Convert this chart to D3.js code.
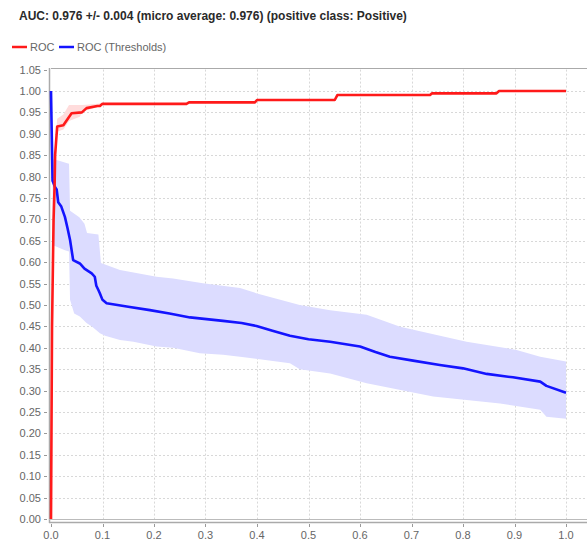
<!DOCTYPE html>
<html lang="en">
<head>
<meta charset="UTF-8">
<title>ROC</title>
<script src="https://d3js.org/d3.v7.min.js"></script>
<style>
    body { margin: 0; padding: 0; background: #fff; overflow: hidden; }
    svg { display: block; font-family: "Liberation Sans", Arial, sans-serif; }
    .tick-label { font-size: 11px; fill: #666; }
    .grid line { stroke: #d8d8d8; stroke-width: 1; stroke-dasharray: 2,2; }
</style>
</head>
<body>
<svg id="chart" width="587" height="542"></svg>
<script>
    // ROC curve (mean), x = false positive rate, y = true positive rate
    const rocX = [0, 0.002, 0.005, 0.007, 0.008, 0.012, 0.024, 0.04, 0.06, 0.069, 0.09, 0.095, 0.1, 0.263, 0.268, 0.396, 0.4, 0.551, 0.556, 0.736, 0.74, 0.865, 0.87, 1.0];
    const rocY = [0, 0.45, 0.70, 0.78, 0.85, 0.917, 0.92, 0.948, 0.95, 0.96, 0.965, 0.965, 0.97, 0.97, 0.9735, 0.9735, 0.979, 0.979, 0.9905, 0.9905, 0.9945, 0.9945, 1.0, 1.0];
    // ROC spread band (only visible near the start)
    const rocBandX = [0.008, 0.012, 0.024, 0.035, 0.056, 0.06, 0.069, 0.09, 0.1];
    const rocBandLo = [0.85, 0.905, 0.91, 0.93, 0.94, 0.95, 0.955, 0.962, 0.968];
    const rocBandHi = [0.87, 0.935, 0.945, 0.967, 0.967, 0.967, 0.968, 0.97, 0.972];

    // ROC (Thresholds) line
    const thrX = [0, 0.003, 0.008, 0.011, 0.014, 0.02, 0.027, 0.032, 0.037, 0.043, 0.056, 0.065, 0.079, 0.085, 0.088, 0.092, 0.095, 0.1, 0.108, 0.15, 0.192, 0.23, 0.27, 0.334, 0.37, 0.399, 0.43, 0.464, 0.5, 0.542, 0.6, 0.63, 0.658, 0.703, 0.755, 0.8, 0.846, 0.897, 0.95, 0.962, 1.0];
    const thrY = [1.0, 0.79, 0.775, 0.77, 0.74, 0.73, 0.706, 0.68, 0.652, 0.605, 0.597, 0.585, 0.574, 0.566, 0.545, 0.535, 0.527, 0.512, 0.504, 0.496, 0.488, 0.48, 0.471, 0.463, 0.458, 0.451, 0.44, 0.428, 0.42, 0.414, 0.403, 0.39, 0.379, 0.37, 0.36, 0.352, 0.339, 0.331, 0.321, 0.311, 0.295];
    // Thresholds band, upper and lower edge
    const thrHiX = [0.003, 0.011, 0.03, 0.035, 0.037, 0.055, 0.065, 0.07, 0.092, 0.097, 0.134, 0.205, 0.237, 0.295, 0.367, 0.4, 0.483, 0.542, 0.613, 0.678, 0.807, 0.904, 0.95, 1.0];
    const thrHiY = [0.84, 0.839, 0.832, 0.83, 0.72, 0.705, 0.69, 0.668, 0.665, 0.598, 0.582, 0.566, 0.562, 0.551, 0.54, 0.527, 0.5, 0.488, 0.477, 0.449, 0.414, 0.395, 0.379, 0.368];
    const thrLoX = [0.003, 0.011, 0.027, 0.035, 0.037, 0.045, 0.056, 0.069, 0.08, 0.095, 0.105, 0.134, 0.16, 0.205, 0.237, 0.289, 0.334, 0.367, 0.464, 0.483, 0.542, 0.613, 0.742, 0.872, 0.95, 0.962, 1.0];
    const thrLoY = [0.64, 0.636, 0.628, 0.625, 0.512, 0.48, 0.473, 0.458, 0.449, 0.434, 0.428, 0.418, 0.414, 0.403, 0.40, 0.387, 0.384, 0.379, 0.364, 0.35, 0.34, 0.317, 0.286, 0.27, 0.255, 0.239, 0.234];

    const xTicks = [0, 0.1, 0.2, 0.3, 0.4, 0.5, 0.6, 0.7, 0.8, 0.9, 1.0];
    const yTicks = d3.range(0, 22).map(i => i * 0.05);

    const title = "AUC: 0.976 +/- 0.004 (micro average: 0.976) (positive class: Positive)";
    const legendNames = ["ROC", "ROC (Thresholds)"];
    const colors = ["#ff1a1a", "#1414ff"];

    const svg = d3.select("#chart");
    const x = d3.scaleLinear().domain([0, 1]).range([51, 566]);
    const y = d3.scaleLinear().domain([0, 1.05]).range([519, 69.6]);
    const plotRight = 600;

    const zip = (xs, ys) => xs.map((v, i) => [v, ys[i]]);

    // title
    svg.append("text")
        .attr("x", 19).attr("y", 19.5)
        .style("font-size", "12px").style("font-weight", "bold").attr("fill", "#2a2a2a")
        .text(title);

    // legend
    const leg = svg.append("g");
    const legX = [12, 59];
    legendNames.forEach((n, i) => {
        leg.append("line")
            .attr("x1", legX[i]).attr("x2", legX[i] + 15)
            .attr("y1", 47).attr("y2", 47)
            .attr("stroke", colors[i]).attr("stroke-width", 2.5);
        leg.append("text")
            .attr("class", "tick-label")
            .attr("x", legX[i] + 18).attr("y", 51)
            .text(n);
    });

    // grid
    const grid = svg.append("g").attr("class", "grid");
    grid.selectAll("line.h").data(yTicks.slice(1, 21)).join("line")
        .attr("x1", x(0)).attr("x2", plotRight)
        .attr("y1", d => Math.round(y(d)) + 0.5).attr("y2", d => Math.round(y(d)) + 0.5);
    grid.selectAll("line.v").data(xTicks.slice(1)).join("line")
        .attr("y1", y(1.05)).attr("y2", y(0))
        .attr("x1", d => Math.round(x(d)) + 0.5).attr("x2", d => Math.round(x(d)) + 0.5);

    // bands
    const area = d3.area().x(d => x(d[0])).y0(d => y(d[1])).y1(d => y(d[2]));
    const bandPts = (xs, lo, hi) => xs.map((v, i) => [v, lo[i], hi[i]]);
    svg.append("path")
        .datum(bandPts(rocBandX, rocBandLo, rocBandHi))
        .attr("fill", "#ffdcdc").attr("d", area);

    // threshold band: upper edge forward, lower edge back
    const hi = zip(thrHiX, thrHiY), lo = zip(thrLoX, thrLoY).reverse();
    svg.append("path")
        .attr("fill", "#dcdcff")
        .attr("d", d3.line().x(d => x(d[0])).y(d => y(d[1]))(hi.concat(lo)) + "Z");

    // frame / axes
    svg.append("line").attr("x1", x(0)).attr("x2", plotRight)
        .attr("y1", 68.5).attr("y2", 68.5).attr("stroke", "#aaa").attr("stroke-width", 1);
    svg.append("line").attr("x1", 49.5).attr("x2", 49.5)
        .attr("y1", 68).attr("y2", 523).attr("stroke", "#aaa").attr("stroke-width", 1.5);
    svg.append("line").attr("x1", 49).attr("x2", plotRight)
        .attr("y1", 519.5).attr("y2", 519.5).attr("stroke", "#bbb").attr("stroke-width", 1);
    svg.append("line").attr("x1", 49).attr("x2", plotRight)
        .attr("y1", 522.5).attr("y2", 522.5).attr("stroke", "#aaa").attr("stroke-width", 1.5);

    // lines
    const line = d3.line().x(d => x(d[0])).y(d => y(d[1]));
    svg.append("path").datum(zip(thrX, thrY))
        .attr("fill", "none").attr("stroke", colors[1]).attr("stroke-width", 2.6)
        .attr("stroke-linejoin", "round").attr("d", line);
    svg.append("path").datum(zip(rocX, rocY))
        .attr("fill", "none").attr("stroke", colors[0]).attr("stroke-width", 2.6)
        .attr("stroke-linejoin", "round").attr("d", line);

    // y ticks
    const yAxis = svg.append("g");
    yAxis.selectAll("line").data(yTicks).join("line")
        .attr("x1", 44).attr("x2", 47)
        .attr("y1", d => Math.round(y(d)) + 0.5).attr("y2", d => Math.round(y(d)) + 0.5)
        .attr("stroke", "#999");
    yAxis.selectAll("text").data(yTicks).join("text")
        .attr("class", "tick-label")
        .attr("x", 41).attr("y", d => y(d) + 4)
        .attr("text-anchor", "end")
        .text(d => d3.format(".2f")(d));

    // x ticks
    const xAxis = svg.append("g");
    xAxis.selectAll("line").data(xTicks).join("line")
        .attr("y1", 524).attr("y2", 527)
        .attr("x1", d => Math.round(x(d)) + 0.5).attr("x2", d => Math.round(x(d)) + 0.5)
        .attr("stroke", "#999");
    xAxis.selectAll("text").data(xTicks).join("text")
        .attr("class", "tick-label")
        .attr("x", d => x(d)).attr("y", 539)
        .attr("text-anchor", "middle")
        .text(d => d3.format(".1f")(d));
</script>
</body>
</html>
